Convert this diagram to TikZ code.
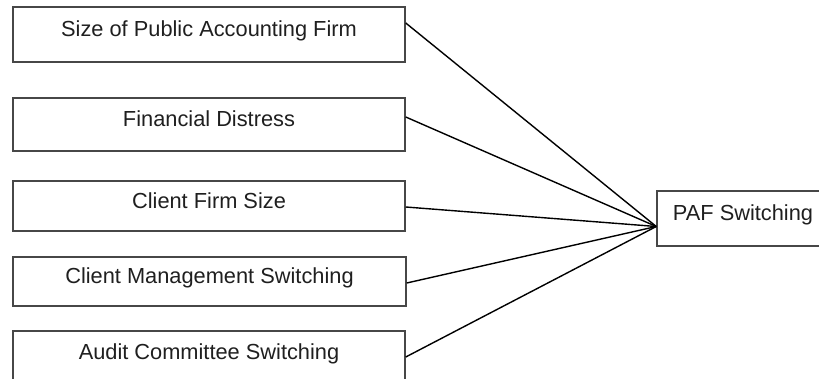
\documentclass[tikz,border=0pt]{standalone}
\usepackage{fontspec}
\setmainfont{Liberation Sans}
\begin{document}
\begin{tikzpicture}[x=0.5pt,y=-0.5pt,
  varbox/.style={draw=black!72, line width=0.75pt, rectangle, inner sep=0pt,
    text height=7.8pt, text depth=5.4pt,
    text=black!88, font=\fontsize{10.9}{13}\selectfont},
  link/.style={draw=black, line width=0.7pt}]
\useasboundingbox (0,0) rectangle (819,379);
\clip (0,0) rectangle (819,379);
\node[varbox, minimum width=196pt, minimum height=27.5pt] (b1) at (209,34.5) {Size of Public Accounting Firm};
\node[varbox, minimum width=196pt, minimum height=26.5pt] (b2) at (209,124.5) {Financial Distress};
\node[varbox, minimum width=196pt, minimum height=25pt] (b3) at (209,206) {Client Firm Size};
\node[varbox, minimum width=196.5pt, minimum height=24.5pt] (b4) at (209.5,281.5) {Client Management Switching};
\node[varbox, minimum width=196pt, minimum height=26pt] (b5) at (209,357) {Audit Committee Switching};
\node[varbox, minimum width=86pt, minimum height=27.5pt] (paf) at (743,218.5) {PAF Switching};
\coordinate (hub) at ([yshift=-4pt]paf.west);
\draw[link] ([yshift=5.75pt]b1.east) -- (hub);
\draw[link] ([yshift=3.75pt]b2.east) -- (hub);
\draw[link] ([yshift=-0.5pt]b3.east) -- (hub);
\draw[link] ([yshift=-0.75pt]b4.east) -- (hub);
\draw[link] (b5.east) -- (hub);
\end{tikzpicture}
\end{document}
